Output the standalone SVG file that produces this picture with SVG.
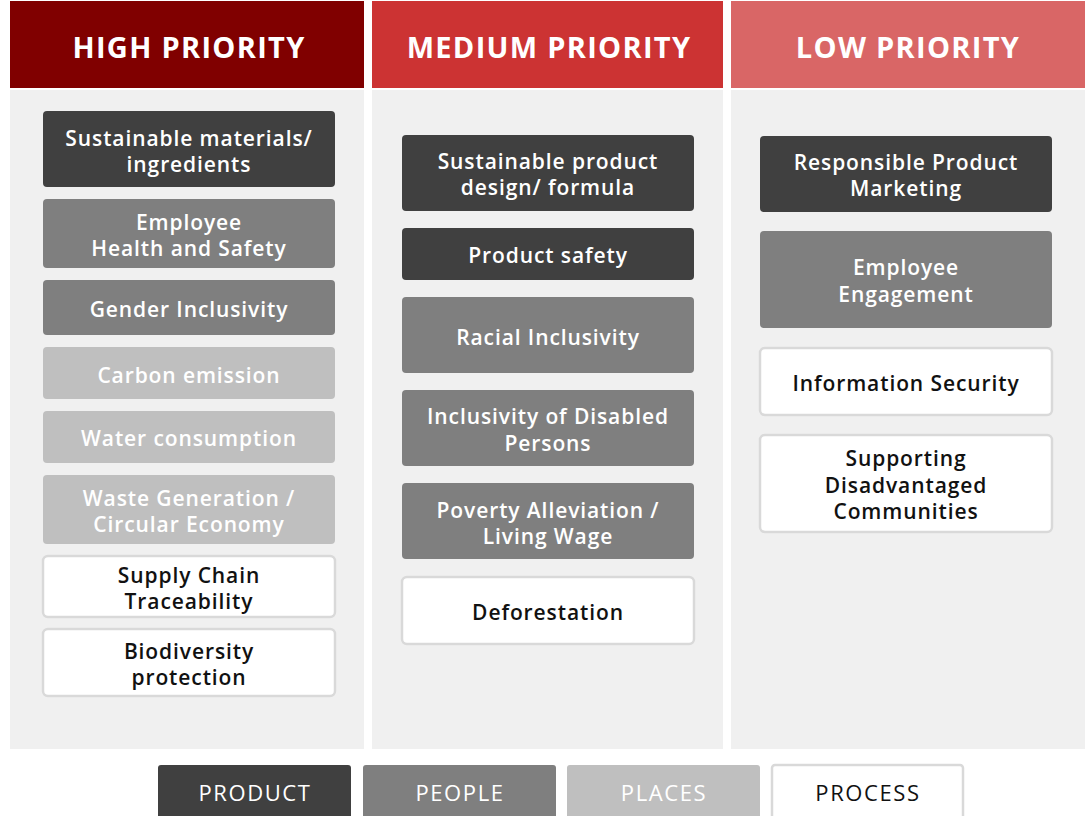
<svg xmlns="http://www.w3.org/2000/svg" width="1086" height="816" viewBox="0 0 1086 816">
<style>
.hdr{font-family:"Open Sans","Liberation Sans",sans-serif;font-weight:700;font-size:29px;letter-spacing:1.3px;fill:#fff;text-anchor:middle}
.t{font-family:"Open Sans","Liberation Sans",sans-serif;font-weight:600;font-size:21px;letter-spacing:0.9px;text-anchor:middle}
.lg{font-family:"Open Sans","Liberation Sans",sans-serif;font-weight:500;font-size:22px;letter-spacing:1.6px;text-anchor:middle}
.dark{fill:#404040}
.mid{fill:#7f7f7f}
.light{fill:#bfbfbf}
.white{fill:#ffffff;stroke:#d9d9d9;stroke-width:2.5}
.tw{fill:#ffffff}
.tb{fill:#111111}
.body{fill:#f0f0f0}
</style>
<rect width="1086" height="816" fill="#ffffff"/>
<g id="col-high">
<rect x="10" y="1" width="354" height="87" fill="#800000"/>
<rect class="body" x="10" y="90" width="354" height="659"/>
<text class="hdr" x="189" y="58">HIGH PRIORITY</text>
</g>
<g id="col-medium">
<rect x="372" y="1" width="351" height="87" fill="#cc3333"/>
<rect class="body" x="372" y="90" width="351" height="659"/>
<text class="hdr" x="549" y="58">MEDIUM PRIORITY</text>
</g>
<g id="col-low">
<rect x="731" y="1" width="354" height="87" fill="#d96666"/>
<rect class="body" x="731" y="90" width="354" height="659"/>
<text class="hdr" x="908" y="58">LOW PRIORITY</text>
</g>

<g id="h1"><rect class="dark" x="43" y="111" width="292" height="76" rx="4"/><text class="t tw" x="189" y="146">Sustainable materials/</text><text class="t tw" x="189" y="172">ingredients</text></g>
<g id="h2"><rect class="mid" x="43" y="199" width="292" height="69" rx="4"/><text class="t tw" x="189" y="230">Employee</text><text class="t tw" x="189" y="256">Health and Safety</text></g>
<g id="h3"><rect class="mid" x="43" y="280" width="292" height="55" rx="4"/><text class="t tw" x="189" y="317">Gender Inclusivity</text></g>
<g id="h4"><rect class="light" x="43" y="347" width="292" height="52" rx="4"/><text class="t tw" x="189" y="383">Carbon emission</text></g>
<g id="h5"><rect class="light" x="43" y="411" width="292" height="52" rx="4"/><text class="t tw" x="189" y="446">Water consumption</text></g>
<g id="h6"><rect class="light" x="43" y="475" width="292" height="69" rx="4"/><text class="t tw" x="189" y="506">Waste Generation /</text><text class="t tw" x="189" y="532">Circular Economy</text></g>
<g id="h7"><rect class="white" x="43" y="556" width="292" height="61" rx="5"/><text class="t tb" x="189" y="583">Supply Chain</text><text class="t tb" x="189" y="609">Traceability</text></g>
<g id="h8"><rect class="white" x="43" y="629" width="292" height="67" rx="5"/><text class="t tb" x="189" y="659">Biodiversity</text><text class="t tb" x="189" y="685">protection</text></g>

<g id="m1"><rect class="dark" x="402" y="135" width="292" height="76" rx="4"/><text class="t tw" x="548" y="169">Sustainable product</text><text class="t tw" x="548" y="195">design/ formula</text></g>
<g id="m2"><rect class="dark" x="402" y="228" width="292" height="52" rx="4"/><text class="t tw" x="548" y="263">Product safety</text></g>
<g id="m3"><rect class="mid" x="402" y="297" width="292" height="76" rx="4"/><text class="t tw" x="548" y="345">Racial Inclusivity</text></g>
<g id="m4"><rect class="mid" x="402" y="390" width="292" height="76" rx="4"/><text class="t tw" x="548" y="424">Inclusivity of Disabled</text><text class="t tw" x="548" y="451">Persons</text></g>
<g id="m5"><rect class="mid" x="402" y="483" width="292" height="76" rx="4"/><text class="t tw" x="548" y="518">Poverty Alleviation /</text><text class="t tw" x="548" y="544">Living Wage</text></g>
<g id="m6"><rect class="white" x="402" y="577" width="292" height="67" rx="5"/><text class="t tb" x="548" y="620">Deforestation</text></g>

<g id="l1"><rect class="dark" x="760" y="136" width="292" height="76" rx="4"/><text class="t tw" x="906" y="170">Responsible Product</text><text class="t tw" x="906" y="196">Marketing</text></g>
<g id="l2"><rect class="mid" x="760" y="231" width="292" height="97" rx="4"/><text class="t tw" x="906" y="275">Employee</text><text class="t tw" x="906" y="302">Engagement</text></g>
<g id="l3"><rect class="white" x="760" y="348" width="292" height="67" rx="5"/><text class="t tb" x="906" y="391">Information Security</text></g>
<g id="l4"><rect class="white" x="760" y="435" width="292" height="97" rx="5"/><text class="t tb" x="906" y="466">Supporting</text><text class="t tb" x="906" y="493">Disadvantaged</text><text class="t tb" x="906" y="519">Communities</text></g>

<g id="legend">
<rect class="dark" x="158" y="765" width="193" height="60" rx="3"/><text class="lg tw" x="255" y="801">PRODUCT</text>
<rect class="mid" x="363" y="765" width="193" height="60" rx="3"/><text class="lg tw" x="460" y="801">PEOPLE</text>
<rect class="light" x="567" y="765" width="193" height="60" rx="3"/><text class="lg tw" x="664" y="801">PLACES</text>
<rect class="white" x="772" y="765" width="191" height="60" rx="3"/><text class="lg tb" x="868" y="801">PROCESS</text>
</g>
<g id="connectors"/>
</svg>
